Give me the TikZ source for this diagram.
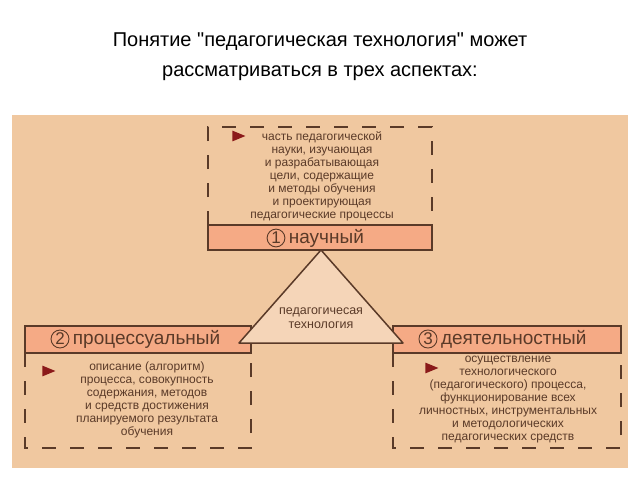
\documentclass[tikz,border=0pt]{standalone}
\usepackage{fontspec}
\setmainfont{Liberation Sans}
\usetikzlibrary{positioning,shapes.geometric}
\definecolor{bgtan}{HTML}{F0C8A0}
\definecolor{bandsalmon}{HTML}{F5AA85}
\definecolor{trifill}{HTML}{F5D5B8}
\definecolor{linebrown}{HTML}{5A3A28}
\definecolor{markred}{HTML}{8B1A1A}
\tikzset{
  band/.style={draw=linebrown, line width=1.2pt, fill=bandsalmon},
  frame/.style={draw=linebrown, line width=1.2pt, dash pattern=on 14pt off 14pt},
  bandtext/.style={font=\fontsize{19}{19}\selectfont, text=linebrown},
  num/.style={circle, draw=linebrown, line width=0.9pt, inner sep=1pt, font=\fontsize{17}{17}\selectfont, text=linebrown},
  bodytext/.style={align=center, font=\fontsize{12}{13}\selectfont, text=linebrown},
  marker/.style={isosceles triangle, fill=markred, minimum height=13pt, minimum width=8pt, inner sep=0pt}
}
\begin{document}
\begin{tikzpicture}[x=1pt,y=-1pt]
\useasboundingbox (0,0) rectangle (640,480);
\fill[white] (0,0) rectangle (640,480);
% title
\node[align=center, font=\fontsize{20}{30}\selectfont] (title) at (320,57)
  {Понятие \textquotedbl педагогическая технология\textquotedbl{} может\\рассматриваться в трех аспектах:};
\fill[bgtan] (12,115) rectangle (628,468);
% top aspect
\draw[frame] (208,225) -- (208,127) -- (432,127) -- (432,225);
\draw[band] (208,225) rectangle (432,250);
\node[num] (n1) at (276,238) {1};
\node[bandtext, right=0pt of n1] (sci) {научный};
\node[bodytext] (scitext) at (322,176) {часть педагогической\\науки, изучающая\\и разрабатывающая\\цели, содержащие\\и методы обучения\\и проектирующая\\педагогические процессы};
\node[marker] (m1) at (236,136) {};
% left aspect
\draw[band] (25,326) rectangle (251,353);
\draw[frame] (25,353) -- (25,448) -- (251,448) -- (251,353);
\node[num] (n2) at (60,339) {2};
\node[bandtext, right=0pt of n2] (proc) {процессуальный};
\node[bodytext] (proctext) at (147,400) {описание (алгоритм)\\процесса, совокупность\\содержания, методов\\и средств достижения\\планируемого результата\\обучения};
\node[marker] (m2) at (46,371) {};
% right aspect
\draw[band] (393,326) rectangle (621,353);
\draw[frame] (393,353) -- (393,448) -- (621,448) -- (621,353);
\node[num] (n3) at (428,339) {3};
\node[bandtext, right=0pt of n3] (act) {деятельностный};
\node[bodytext] (acttext) at (508,400) {осуществление\\технологического\\(педагогического) процесса,\\функционирование всех\\личностных, инструментальных\\и методологических\\педагогических средств};
\node[marker] (m3) at (429,368) {};
% centre
\draw[draw=linebrown, line width=1.5pt, fill=trifill, line join=round] (321,250) -- (403,343) -- (239,343) -- cycle;
\node[bodytext, font=\fontsize{12.5}{14}\selectfont] (tech) at (321,318) {педагогичесая\\технология};
\end{tikzpicture}
\end{document}
